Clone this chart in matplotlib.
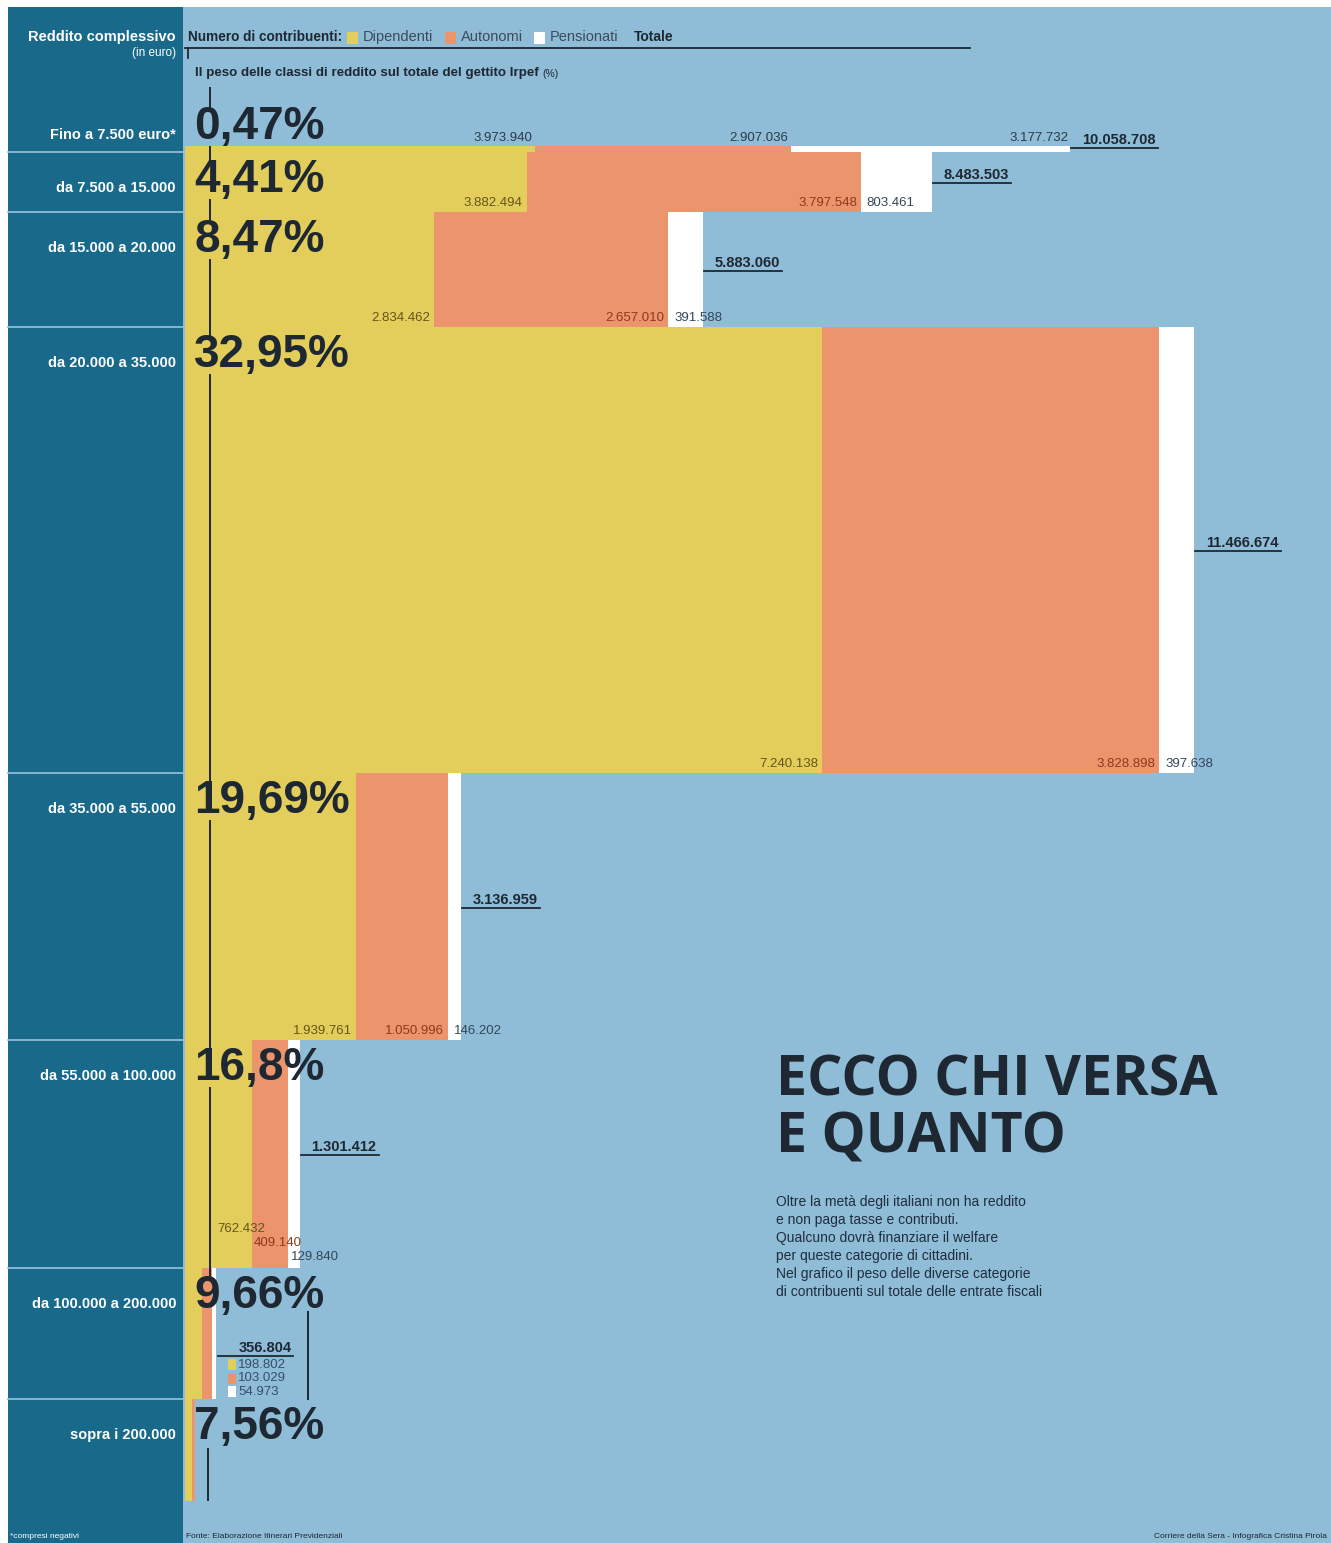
import matplotlib
import matplotlib.pyplot as plt
from matplotlib import font_manager
from matplotlib.patches import Rectangle

matplotlib.use("Agg")

# dati (contribuenti per classe di reddito)
classi = [
    "Fino a 7.500 euro*",
    "da 7.500 a 15.000",
    "da 15.000 a 20.000",
    "da 20.000 a 35.000",
    "da 35.000 a 55.000",
    "da 55.000 a 100.000",
    "da 100.000 a 200.000",
    "sopra i 200.000",
]
peso_irpef = [0.47, 4.41, 8.47, 32.95, 19.69, 16.8, 9.66, 7.56]
peso_label = ["0,47%", "4,41%", "8,47%", "32,95%", "19,69%", "16,8%", "9,66%", "7,56%"]
dipendenti = [3973940, 3882494, 2834462, 7240138, 1939761, 762432, 198802, 85000]
autonomi = [2907036, 3797548, 2657010, 3828898, 1050996, 409140, 103029, 25000]
pensionati = [3177732, 803461, 391588, 397638, 146202, 129840, 54973, 6000]
totale = [10058708, 8483503, 5883060, 11466674, 3136959, 1301412, 356804, None]
legenda = ["Dipendenti", "Autonomi", "Pensionati"]
nota = [
    "Oltre la metà degli italiani non ha reddito",
    "e non paga tasse e contributi.",
    "Qualcuno dovrà finanziare il welfare",
    "per queste categorie di cittadini.",
    "Nel grafico il peso delle diverse categorie",
    "di contribuenti sul totale delle entrate fiscali",
]

TEAL = "#19698b"
SKY = "#8fbcd7"
YELLOW = "#e3cd5b"
ORANGE = "#ec946b"
WHITE = "#ffffff"
INK = "#1e2833"
VAL_COLORS = ["#65551a", "#8b3a1c", "#33475a"]

_have = {f.name for f in font_manager.fontManager.ttflist}
NARROW = "Liberation Sans Narrow" if "Liberation Sans Narrow" in _have else "Liberation Sans"
BIG = "Open Sans"

W, H = 1331, 1543
X0, Y0 = 185, 146      # pixel origin of the bars
PX_MIL = 88.0          # pixels per million taxpayers
PX_PCT = 13.55         # pixels per point of IRPEF share


def fmt(v):
    return f"{v:,}".replace(",", ".")


def px_x(v):
    return X0 + v * PX_MIL / 1e6


def px_y(p):
    return Y0 + p * PX_PCT


fig = plt.figure(figsize=(W / 100, H / 100), dpi=100)
fig.patch.set_facecolor("white")

bg = fig.add_axes([0, 0, 1, 1])
bg.set_xlim(0, W)
bg.set_ylim(H, 0)
bg.axis("off")
PX = bg.transData

ax = fig.add_axes([0, 0, 1, 1], zorder=2)
ax.set_xlim(-X0 / PX_MIL * 1e6, (W - X0) / PX_MIL * 1e6)
ax.set_ylim((H - Y0) / PX_PCT, -Y0 / PX_PCT)
ax.axis("off")

fig.canvas.draw()
renderer = fig.canvas.get_renderer()


def right_edge(t):
    return t.get_window_extent(renderer).x1


# backgrounds
bg.add_patch(Rectangle((8, 7), W - 8, H - 7, color=SKY, lw=0))
bg.add_patch(Rectangle((8, 7), 175, H - 7, color=TEAL, lw=0))

tops = [sum(peso_irpef[:i]) for i in range(len(peso_irpef))]

# bars
left = [0] * len(classi)
for serie, col in zip([dipendenti, autonomi, pensionati], [YELLOW, ORANGE, WHITE]):
    ax.barh(tops, serie, left=left, height=peso_irpef, align="edge", color=col, linewidth=0)
    left = [a + b for a, b in zip(left, serie)]

# row dividers in the label column
for t in tops[1:]:
    bg.plot([8, 183], [px_y(t), px_y(t)], color=SKY, lw=1.3)

# percentages, row labels
centers = []
for i, (t, lab) in enumerate(zip(tops, peso_label)):
    yc = px_y(t) - 19 if i == 0 else px_y(t) + 28
    centers.append(yc)
    ax.text(194, yc, lab, transform=PX, ha="left", va="center", fontsize=33,
            fontweight="bold", family=NARROW, color=INK, zorder=5)
    bg.text(176, yc + 8, classi[i], ha="right", va="center", fontsize=10.5,
            fontweight="bold", family=NARROW, color="white")

# vertical guide line
guide = [(88, centers[0] - 20)]
for i in range(6):
    guide.append((centers[i] + 20, centers[i + 1] - 20))
for y1, y2 in guide:
    ax.plot([210, 210], [y1, y2], transform=PX, color=INK, lw=1.4, zorder=4)
ax.plot([308, 308], [centers[6] + 16, px_y(tops[7])], transform=PX, color=INK, lw=1.4, zorder=4)
ax.plot([208, 208], [centers[7] + 22, px_y(100) - 1], transform=PX, color=INK, lw=1.4, zorder=4)

# value labels
val_kw = dict(transform=PX, fontsize=9.5, family=NARROW, zorder=6)
for i in range(5):
    segs = [dipendenti[i], autonomi[i], pensionati[i]]
    ends = [px_x(sum(segs[:k + 1])) for k in range(3)]
    starts = [X0] + ends[:2]
    if i == 0:
        yl = px_y(tops[0]) - 8
        for k in range(3):
            ax.text(ends[k] - 2, yl, fmt(segs[k]), ha="right", va="center",
                    color="#2c3a48", **val_kw)
    else:
        yl = px_y(tops[i] + peso_irpef[i]) - 9
        for k in range(2):
            ax.text(ends[k] - 4, yl, fmt(segs[k]), ha="right", va="center",
                    color=VAL_COLORS[k], **val_kw)
        ax.text(starts[2] + 6, yl, fmt(segs[2]), ha="left", va="center",
                color=VAL_COLORS[2], **val_kw)

# row 55.000-100.000: staggered labels
segs = [dipendenti[5], autonomi[5], pensionati[5]]
ends = [px_x(sum(segs[:k + 1])) for k in range(3)]
yb = px_y(tops[5] + peso_irpef[5])
ax.text(ends[0] - 35, yb - 39, fmt(segs[0]), ha="left", va="center", color=VAL_COLORS[0], **val_kw)
ax.text(ends[0] + 2, yb - 25, fmt(segs[1]), ha="left", va="center", color=VAL_COLORS[1], **val_kw)
ax.text(ends[1] + 3, yb - 11, fmt(segs[2]), ha="left", va="center", color=VAL_COLORS[2], **val_kw)

# totals with underline
tot_kw = dict(transform=PX, fontsize=10.5, fontweight="bold", family=NARROW, color=INK,
              ha="left", va="center", zorder=6)
for i in range(6):
    xe = px_x(dipendenti[i] + autonomi[i] + pensionati[i])
    if i == 0:
        yt, yu = 140, 148
    else:
        mid = px_y(tops[i] + peso_irpef[i] / 2)
        yt, yu = mid - 7, mid + 1
    t = ax.text(xe + 12, yt, fmt(totale[i]), **tot_kw)
    ax.plot([xe + 1, right_edge(t) + 2], [yu, yu], transform=PX, color=INK, lw=1.3, zorder=6)

# row 100.000-200.000: small legend
xe = px_x(dipendenti[6] + autonomi[6] + pensionati[6])
top6 = px_y(tops[6])
t = ax.text(xe + 22, top6 + 80, fmt(totale[6]), **tot_kw)
ax.plot([xe + 2, right_edge(t) + 1], [top6 + 88, top6 + 88], transform=PX, color=INK, lw=1.3,
        zorder=6)
for k, (serie, col) in enumerate(zip([dipendenti, autonomi, pensionati], [YELLOW, ORANGE, WHITE])):
    yy = top6 + 97 + 13.5 * k
    ax.add_patch(Rectangle((xe + 12, yy - 5.5), 8, 11, color=col, lw=0, transform=PX, zorder=6))
    ax.text(xe + 22, yy, fmt(serie[6]), ha="left", va="center", color="#34506a", **val_kw)

# header
bg.text(176, 37, "Reddito complessivo", ha="right", va="center", fontsize=10.5,
        fontweight="bold", family=NARROW, color="white")
bg.text(176, 53, "(in euro)", ha="right", va="center", fontsize=8.5, family=NARROW, color="white")
t = bg.text(188, 37, "Numero di contribuenti:", ha="left", va="center", fontsize=9.8,
            fontweight="bold", family=NARROW, color=INK)
x = right_edge(t) + 5
for lab, col in zip(legenda, [YELLOW, ORANGE, WHITE]):
    bg.add_patch(Rectangle((x, 32), 11, 12, color=col, lw=0))
    t = bg.text(x + 16, 37, lab, ha="left", va="center", fontsize=10.5, family=NARROW,
                color="#3c4b5a")
    x = right_edge(t) + 11
bg.text(x + 5, 37, "Totale", ha="left", va="center", fontsize=10, fontweight="bold",
        family=NARROW, color=INK)
bg.plot([185, 970], [48, 48], color=INK, lw=1.3)
bg.plot([188, 188], [48, 58], color=INK, lw=1.3)
t = bg.text(195, 73, "Il peso delle classi di reddito sul totale del gettito Irpef", ha="left",
            va="center", fontsize=9.6, fontweight="bold", family=NARROW, color=INK)
bg.text(right_edge(t) + 4, 74, "(%)", ha="left", va="center", fontsize=7.5, family=NARROW,
        color=INK)

# title and note
bg.text(776, 1081, "ECCO CHI VERSA", ha="left", va="center", fontsize=40,
        fontweight="bold", family=BIG, color=INK)
bg.text(776, 1138, "E QUANTO", ha="left", va="center", fontsize=40,
        fontweight="bold", family=BIG, color=INK)
for k, line in enumerate(nota):
    bg.text(776, 1202 + 18 * k, line, ha="left", va="center", fontsize=10,
            family=NARROW, color="#1f2d3d")

# footer
bg.text(10, 1537, "*compresi negativi", ha="left", va="center", fontsize=6,
        family=NARROW, color="white")
bg.text(186, 1537, "Fonte: Elaborazione Itinerari Previdenziali", ha="left", va="center",
        fontsize=6, family=NARROW, color=INK)
bg.text(1327, 1537, "Corriere della Sera - Infografica Cristina Pirola", ha="right",
        va="center", fontsize=6, family=NARROW, color=INK)

fig.savefig("out.png", dpi=100, facecolor=fig.get_facecolor())
